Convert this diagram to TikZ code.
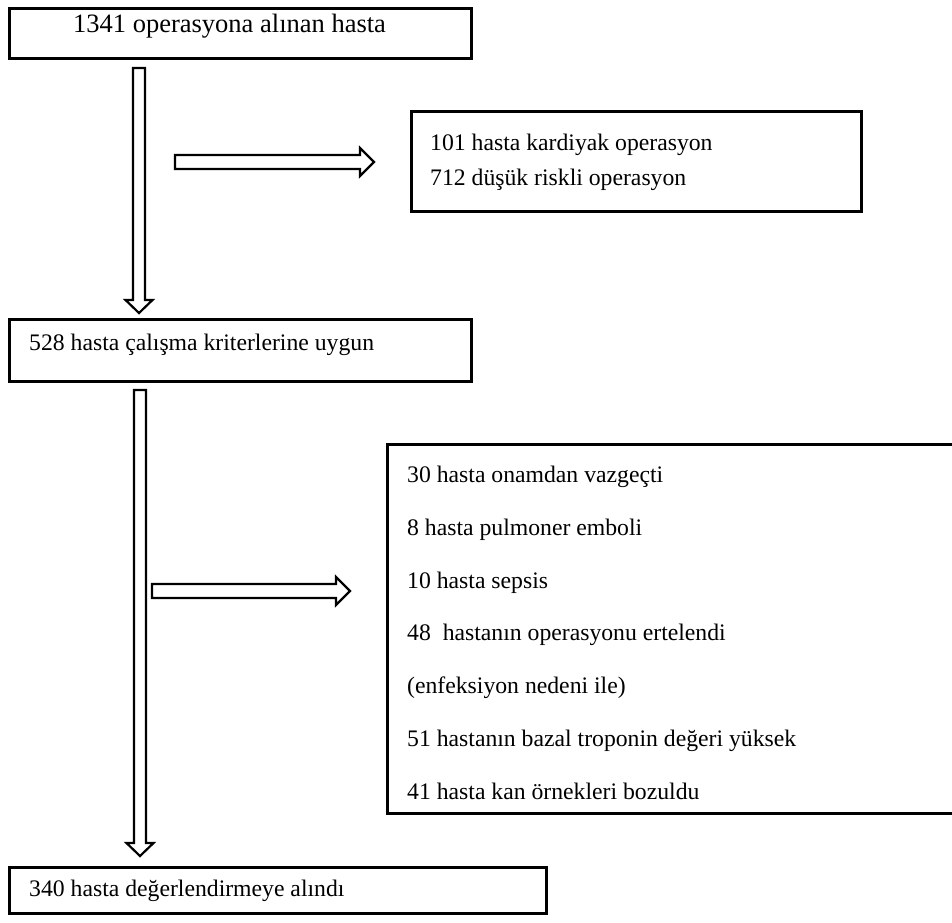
\documentclass[tikz,border=0pt]{standalone}
\usepackage{fontspec}
\setmainfont{Liberation Serif}
\usetikzlibrary{calc}

\tikzset{
  frame/.style={draw=black, line width=2.6pt, fill=white, inner sep=0pt, anchor=north west},
  label/.style={anchor=base west, inner sep=0pt, font=\fontsize{23.7}{28}\selectfont},
  biglabel/.style={label, font=\fontsize{26.5}{31}\selectfont},
  blockarrow/.style={draw=black, line width=2.2pt, fill=white, line join=miter},
}

% hollow block arrow pointing down from #1 to #2
\newcommand\hollowdown[2]{%
  \draw[blockarrow] ($(#1)+(-6,0)$) -- ($(#2)+(-6,-13)$) -- ($(#2)+(-13.5,-13)$)
    -- (#2) -- ($(#2)+(13.5,-13)$) -- ($(#2)+(6,-13)$) -- ($(#1)+(6,0)$) -- cycle;}
% hollow block arrow pointing right from #1 to #2
\newcommand\hollowright[2]{%
  \draw[blockarrow] ($(#1)+(0,-7)$) -- ($(#2)+(-14,-7)$) -- ($(#2)+(-14,-14)$)
    -- (#2) -- ($(#2)+(-14,14)$) -- ($(#2)+(-14,7)$) -- ($(#1)+(0,7)$) -- cycle;}

\begin{document}
\begin{tikzpicture}[x=1pt, y=-1pt]
  \useasboundingbox (0,0) rectangle (952,922);
  \fill[white] (0,0) rectangle (952,922);

  % boxes
  \node[frame, minimum width=462pt, minimum height=50pt] (all) at (8,7) {};
  \node[frame, minimum width=450pt, minimum height=100pt] (excl1) at (410,110) {};
  \node[frame, minimum width=462pt, minimum height=62pt] (elig) at (8,318) {};
  \node[frame, minimum width=570pt, minimum height=369pt] (excl2) at (386,443) {};
  \node[frame, minimum width=537pt, minimum height=46pt] (final) at (8,866) {};

  % texts
  \node[biglabel] (t1) at (73,32) {1341 operasyona alınan hasta};
  \node[label] (t2a) at (430,150) {101 hasta kardiyak operasyon};
  \node[label] (t2b) at (430,185) {712 düşük riskli operasyon};
  \node[label] (t3) at (29,350) {528 hasta çalışma kriterlerine uygun};
  \node[label] (t4a) at (407,482) {30 hasta onamdan vazgeçti};
  \node[label] (t4b) at (407,535) {8 hasta pulmoner emboli};
  \node[label] (t4c) at (407,588) {10 hasta sepsis};
  \node[label] (t4d) at (407,640) {48\ \ hastanın operasyonu ertelendi};
  \node[label] (t4e) at (407,693) {(enfeksiyon nedeni ile)};
  \node[label] (t4f) at (407,746) {51 hastanın bazal troponin değeri yüksek};
  \node[label] (t4g) at (407,799) {41 hasta kan örnekleri bozuldu};
  \node[label] (t5) at (29,896) {340 hasta değerlendirmeye alındı};

  % arrow end points
  \coordinate (d1s) at (139,68);
  \coordinate (d1e) at (139,313);
  \coordinate (r1s) at (175,162);
  \coordinate (r1e) at (374,162);
  \coordinate (d2s) at (140,390);
  \coordinate (d2e) at (140,856);
  \coordinate (r2s) at (152,591);
  \coordinate (r2e) at (350,591);

  \hollowdown{d1s}{d1e}
  \hollowright{r1s}{r1e}
  \hollowdown{d2s}{d2e}
  \hollowright{r2s}{r2e}
\end{tikzpicture}
\end{document}
